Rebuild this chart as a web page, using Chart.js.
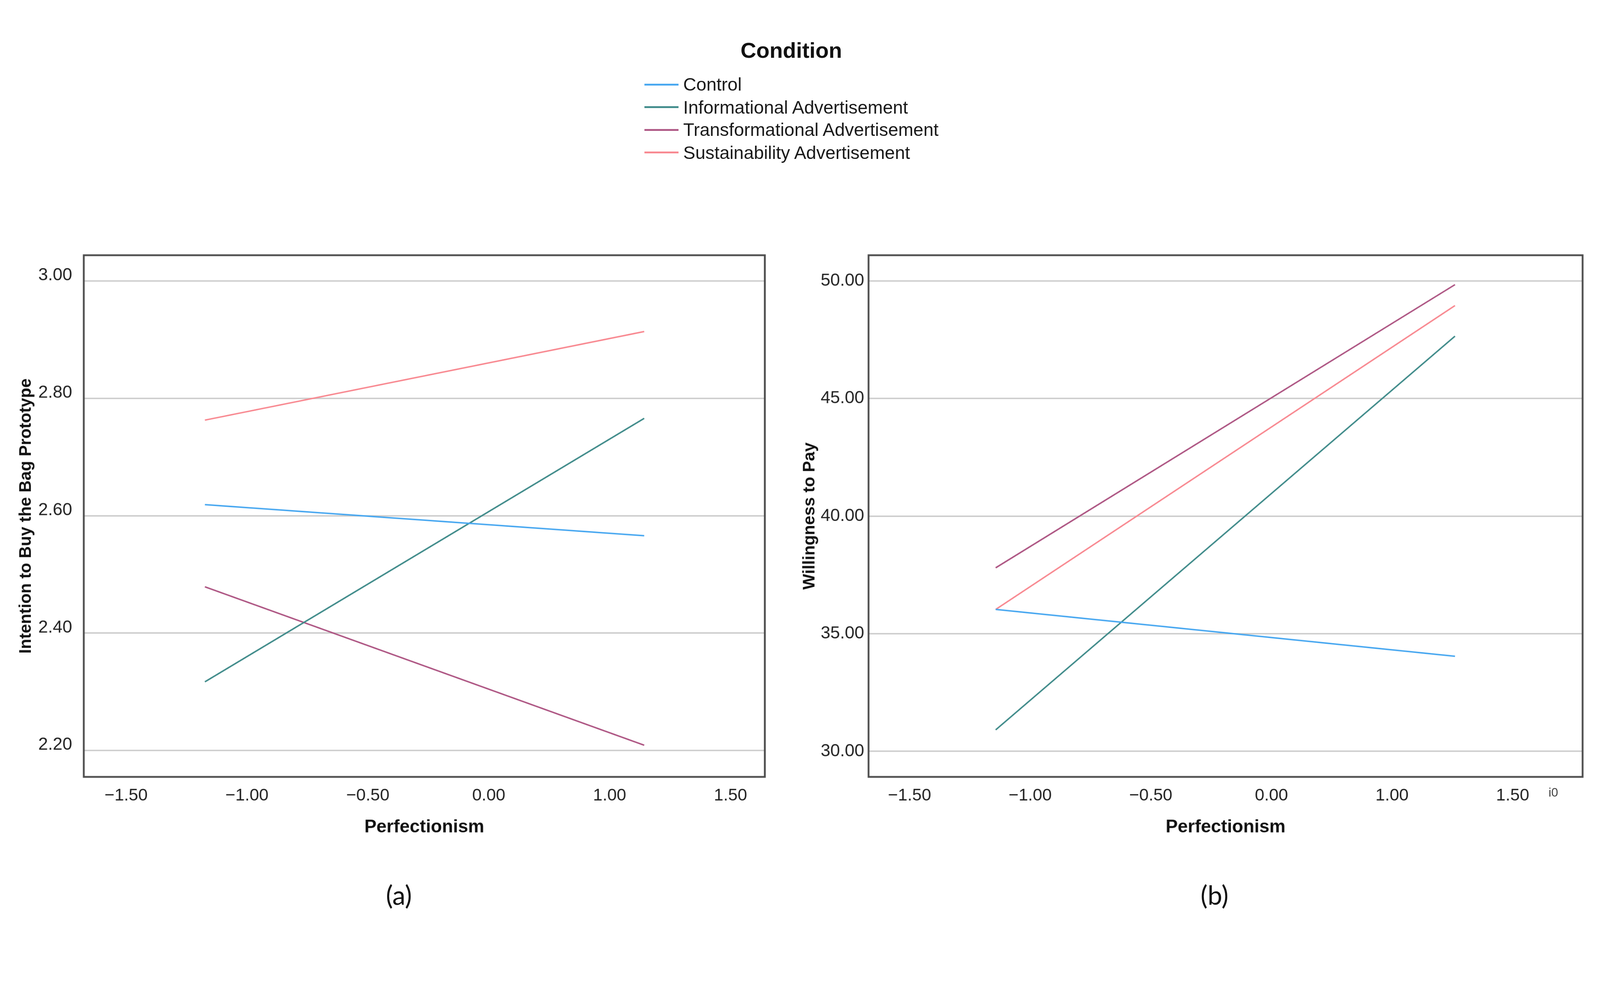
<!DOCTYPE html>
<html>
<head>
<meta charset="utf-8">
<script src="https://cdn.jsdelivr.net/npm/chart.js@4.4.1/dist/chart.umd.min.js"></script>
<style>
  html, body { margin: 0; padding: 0; background: #fff; overflow: hidden; }
  #page { width: 4412px; height: 2566px; position: absolute; left: 0; top: 0;
          transform-origin: 0 0; font-family: 'Liberation Sans', Arial, sans-serif; }
  canvas { position: absolute; }
  #legendTitle { position: absolute; left: 1882px; width: 600px; top: 104px; line-height: 70px;
                 text-align: center; font-size: 60px; font-weight: bold; color: #111; }
  #legend { position: absolute; left: 1777px; top: 202px; }
  .row { display: flex; align-items: center; height: 62.5px; }
  .swatch { width: 94px; height: 5px; margin-right: 13px; }
  .row span { font-size: 50px; color: #1a1a1a; white-space: nowrap; }
  .caption { position: absolute; width: 400px; top: 2423px; line-height: 90px; text-align: center;
             font-family: Lato, 'Open Sans', sans-serif; font-size: 72px; color: #111; }
  #frag { position: absolute; left: 4270px; top: 2166px; font-size: 34px; color: #444; }
</style>
</head>
<body>
<div id="page">
  <div id="legendTitle">Condition</div>
  <div id="legend"></div>
  <canvas id="chartA" style="left:0px;top:600px;width:2200px;height:1800px"></canvas>
  <canvas id="chartB" style="left:2200px;top:600px;width:2212px;height:1800px"></canvas>
  <div class="caption" style="left:900px">(a)</div>
  <div class="caption" style="left:3149px">(b)</div>
  <div id="frag">i0</div>
</div>
<script>
const conditions = ['Control', 'Informational Advertisement', 'Transformational Advertisement', 'Sustainability Advertisement']
const colors = ['#45a6f0', '#3e8a89', '#ad5482', '#f8878f']

// the figure's x ticks are evenly spaced but the label 0.50 is missing,
// so positions are in drawn-axis units and the labels come from this list
const xTickPos = [-1.5, -1.0, -0.5, 0, 0.5, 1.0]
const xTickLabels = ['\u22121.50', '\u22121.00', '\u22120.50', '0.00', '1.00', '1.50']

// (a) Intention to Buy the Bag Prototype
const perfA = [-1.174, 0.643]
const intentControl = [2.619, 2.566]
const intentInformational = [2.317, 2.766]
const intentTransformational = [2.479, 2.209]
const intentSustainability = [2.763, 2.914]
const yTicksA = [2.2, 2.4, 2.6, 2.8, 3.0]

// (b) Willingness to Pay
const perfB = [-1.143, 0.761]
const wtpControl = [36.03, 34.04]
const wtpInformational = [30.91, 47.65]
const wtpTransformational = [37.80, 49.84]
const wtpSustainability = [36.03, 48.95]
const yTicksB = [30, 35, 40, 45, 50]

// lay the page out at 4412x2566 and fit it to whatever the viewport is
const page = document.getElementById('page')
const k = Math.min(window.innerWidth / 4412, window.innerHeight / 2566)
page.style.transform = 'scale(' + k + ')'
const dpr = Math.max(1, k * (window.devicePixelRatio || 1))

Chart.defaults.font.family = "'Liberation Sans', Arial, sans-serif"
Chart.defaults.color = '#222'

const framePlugin = {
  id: 'frame',
  afterDraw(chart) {
    const {ctx, chartArea: a} = chart
    ctx.save()
    ctx.strokeStyle = '#4d4d4d'
    ctx.lineWidth = 5
    ctx.strokeRect(a.left, a.top, a.right - a.left, a.bottom - a.top)
    ctx.restore()
  }
}

function makeDatasets(xs, series) {
  return series.map((vals, i) => ({
    label: conditions[i],
    data: xs.map((x, j) => ({x: x, y: vals[j]})),
    borderColor: colors[i],
    backgroundColor: colors[i],
    borderWidth: 4,
    pointRadius: 0,
    fill: false,
    tension: 0
  }))
}

function makeChart(id, o) {
  return new Chart(document.getElementById(id), {
    type: 'line',
    data: {datasets: makeDatasets(o.xs, o.series)},
    plugins: [framePlugin],
    options: {
      responsive: false,
      animation: false,
      devicePixelRatio: dpr,
      layout: {padding: {left: 0, top: 104, right: o.rightPad, bottom: 0}},
      plugins: {legend: {display: false}, tooltip: {enabled: false}},
      scales: {
        x: {
          type: 'linear',
          min: o.xMin,
          max: o.xMax,
          afterBuildTicks: s => { s.ticks = xTickPos.map(v => ({value: v})) },
          afterFit: s => { s.height = 257 },
          grid: {display: false, drawTicks: false},
          border: {display: false},
          ticks: {
            padding: 24, autoSkip: false, maxRotation: 0,
            font: {size: 47},
            callback: (v, i) => xTickLabels[i]
          },
          title: {
            display: true, text: 'Perfectionism', color: '#111',
            font: {size: 50, weight: 'bold'},
            padding: {top: 0, bottom: 88}
          }
        },
        y: {
          min: o.yMin,
          max: o.yMax,
          afterBuildTicks: s => { s.ticks = o.yTicks.map(v => ({value: v})) },
          afterFit: s => { s.width = o.yWidth },
          grid: {color: '#cdcdcd', lineWidth: 4, drawTicks: false},
          border: {display: false},
          ticks: {
            padding: o.tickPad, labelOffset: o.labelOffset,
            font: {size: 48},
            callback: v => v.toFixed(2)
          },
          title: {
            display: true, text: o.yTitle, color: '#111',
            font: {size: 46, weight: 'bold'},
            padding: {top: o.titlePad, bottom: 0}
          }
        }
      }
    }
  })
}

const chartA = makeChart('chartA', {
  xs: perfA,
  series: [intentControl, intentInformational, intentTransformational, intentSustainability],
  xMin: -1.675, xMax: 1.142,
  yMin: 2.155, yMax: 3.044, yTicks: yTicksA,
  yWidth: 231, rightPad: 91, tickPad: 32, labelOffset: -15, titlePad: 45,
  yTitle: 'Intention to Buy the Bag Prototype'
})

const chartB = makeChart('chartB', {
  xs: perfB,
  series: [wtpControl, wtpInformational, wtpTransformational, wtpSustainability],
  xMin: -1.670, xMax: 1.290,
  yMin: 28.91, yMax: 51.09, yTicks: yTicksB,
  yWidth: 195, rightPad: 48, tickPad: 12, labelOffset: 0, titlePad: 6,
  yTitle: 'Willingness to Pay'
})

// shared legend, built from the first chart's datasets
const legend = document.getElementById('legend')
chartA.data.datasets.forEach(ds => {
  const row = document.createElement('div')
  row.className = 'row'
  const sw = document.createElement('div')
  sw.className = 'swatch'
  sw.style.background = ds.borderColor
  const txt = document.createElement('span')
  txt.textContent = ds.label
  row.appendChild(sw)
  row.appendChild(txt)
  legend.appendChild(row)
})
</script>
</body>
</html>
